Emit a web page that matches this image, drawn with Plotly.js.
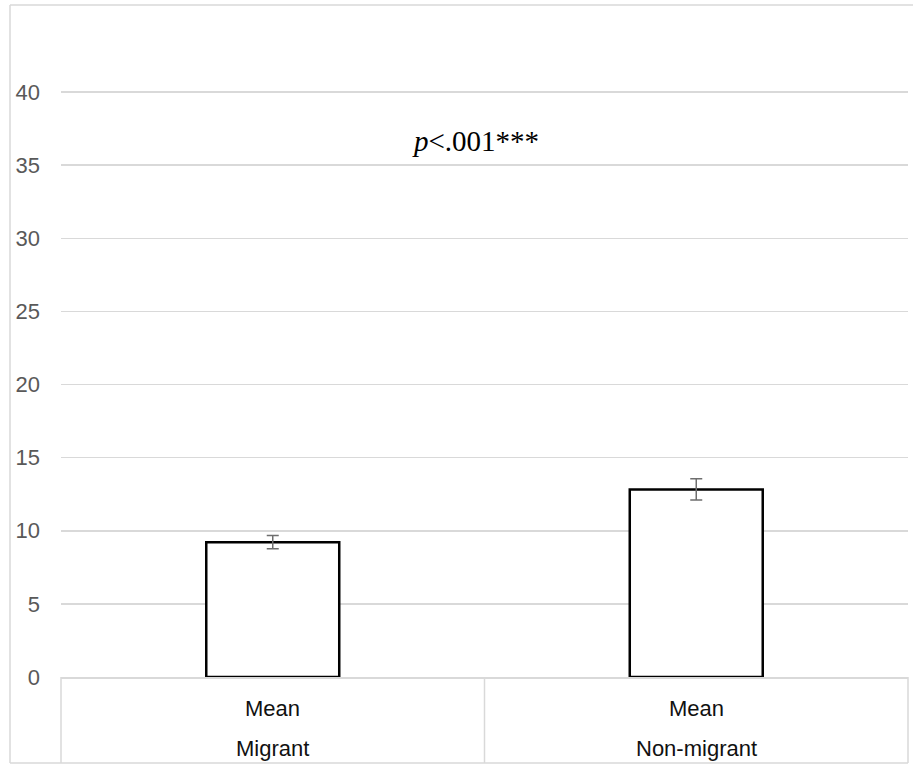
<!DOCTYPE html>
<html>
<head>
<meta charset="utf-8">
<script src="https://cdn.plot.ly/plotly-3.0.1.min.js"></script>
<style>html,body{margin:0;padding:0;background:#fff;}#chart{width:913px;height:764px;}</style>
</head>
<body>
<div id="chart"></div>
<script>
// Data
var groups = ["Migrant", "Non-migrant"];
var stats = ["Mean", "Mean"];
var means = [9.22, 12.83];
var errors = [0.45, 0.73];
var yTicks = [0, 5, 10, 15, 20, 25, 30, 35, 40];
var pText = "<i>p</i><.001***";

var W = 913, H = 764;
var L = 61, R = 5, T = 19, B = 87;
var pw = W - L - R, ph = H - T - B;
function px(x){ return (x - L) / pw; }
function py(y){ return (H - B - y) / ph; }

var trace = {
  type: "bar",
  x: groups,
  y: means,
  marker: {color: "#ffffff", line: {color: "#000000", width: 2.5}},
  error_y: {type: "data", array: errors, visible: true, color: "#6e6e6e", thickness: 1.5, width: 6},
  hoverinfo: "skip"
};

var grey = "#d9d9d9";
var shapes = [
  // outer frame
  {type: "line", xref: "paper", yref: "paper", x0: px(10), x1: px(913), y0: py(5), y1: py(5), line: {color: grey, width: 1.5}},
  {type: "line", xref: "paper", yref: "paper", x0: px(10), x1: px(10), y0: py(5), y1: py(763), line: {color: grey, width: 1.5}},
  {type: "line", xref: "paper", yref: "paper", x0: px(10), x1: px(908), y0: py(763), y1: py(763), line: {color: grey, width: 1.5}},
  // category table
  {type: "line", xref: "paper", yref: "paper", x0: 0, x1: 0, y0: 0, y1: py(763), line: {color: grey, width: 1.5}},
  {type: "line", xref: "paper", yref: "paper", x0: 0.5, x1: 0.5, y0: 0, y1: py(763), line: {color: grey, width: 1.5}},
  {type: "line", xref: "paper", yref: "paper", x0: 1, x1: 1, y0: 0, y1: py(763), line: {color: grey, width: 1.5}}
];

var annotations = [];
for (var i = 0; i < groups.length; i++) {
  annotations.push({x: groups[i], xref: "x", y: 0, yref: "paper", yanchor: "middle", yshift: -31,
    text: stats[i], showarrow: false, font: {family: "Liberation Sans, Arial, sans-serif", size: 22, color: "#111111"}});
  annotations.push({x: groups[i], xref: "x", y: 0, yref: "paper", yanchor: "middle", yshift: -71,
    text: groups[i], showarrow: false, font: {family: "Liberation Sans, Arial, sans-serif", size: 22, color: "#111111"}});
}
annotations.push({x: px(475), xref: "paper", y: py(141), yref: "paper", xanchor: "center", yanchor: "middle",
  text: pText, showarrow: false, font: {family: "Liberation Serif, Times New Roman, serif", size: 29, color: "#000000"}});

var layout = {
  width: W, height: H,
  margin: {l: L, r: R, t: T, b: B, pad: 0},
  paper_bgcolor: "#ffffff", plot_bgcolor: "#ffffff",
  showlegend: false,
  bargap: 0.686,
  xaxis: {type: "category", showticklabels: false, showgrid: false, zeroline: false,
    showline: true, linecolor: grey, linewidth: 1.5, ticks: "", fixedrange: true},
  yaxis: {range: [0, 45], tickvals: yTicks, showgrid: true, gridcolor: grey, gridwidth: 1.5,
    zeroline: false, showline: false, ticks: "", ticklabelstandoff: 20,
    tickfont: {family: "Liberation Sans, Arial, sans-serif", size: 22, color: "#595959"}, fixedrange: true},
  shapes: shapes,
  annotations: annotations
};

Plotly.newPlot("chart", [trace], layout, {displayModeBar: false, staticPlot: true});
</script>
</body>
</html>
